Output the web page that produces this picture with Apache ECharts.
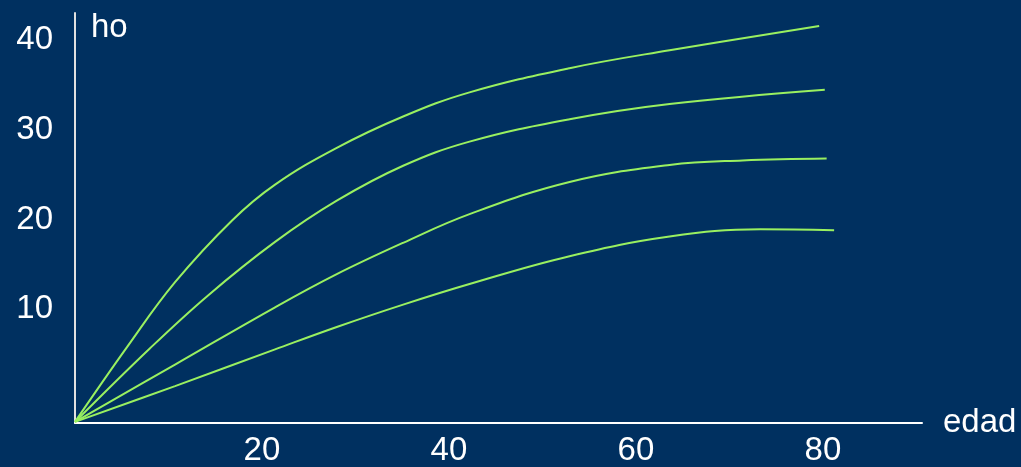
<!DOCTYPE html>
<html>
<head>
<meta charset="utf-8">
<script src="https://cdn.jsdelivr.net/npm/echarts@6/dist/echarts.min.js"></script>
<style>
html,body{margin:0;padding:0;background:#003060;}
#chart{width:1021px;height:467px;}
</style>
</head>
<body>
<div id="chart"></div>
<script>
// x tick labels (edad) and y tick labels (ho)
const xTicks = [20, 40, 60, 80];
const yTicks = [10, 20, 30, 40];

// curves: [edad, ho]
const curve1 = [[0,-2.6],[5.6,5.8],[10.7,13.0],[16.8,19.9],[21.4,23.9],[28.0,28.0],[35.1,31.5],[42.2,34.2],[52.9,36.9],[63.6,38.9],[79.6,41.6]];
const curve2 = [[0,-2.6],[8.0,5.6],[14.2,11.5],[21.4,17.5],[28.0,22.1],[35.1,26.0],[42.2,28.7],[52.9,31.2],[63.6,32.9],[80.2,34.5]];
const curve3 = [[0,-2.6],[10.7,3.8],[21.4,10.2],[28.0,13.9],[35.1,17.4],[42.2,20.6],[52.9,24.2],[63.6,26.1],[71.4,26.6],[80.4,26.8]];
const curve4 = [[0,-2.6],[10.7,1.4],[21.4,5.5],[28.0,8.0],[35.1,10.5],[42.2,12.8],[52.9,15.9],[63.6,18.1],[73.3,18.9],[81.2,18.8]];

const FONT = 'Liberation Sans, Arial, sans-serif';
const lineColor = '#99f060';

const chart = echarts.init(document.getElementById('chart'), null, {renderer:'canvas'});
const mk = (d) => ({
  type:'line', data:d, smooth:0.4, symbol:'none',
  lineStyle:{color:lineColor, width:2}, silent:true
});
chart.setOption({
  backgroundColor:'#003060',
  animation:false,
  grid:{left:75, right:99, top:13, bottom:42, containLabel:false},
  xAxis:{
    type:'value', min:0, max:90.6,
    name:'edad', nameLocation:'end', nameGap:21,
    nameTextStyle:{color:'#ffffff', fontSize:33, fontFamily:FONT, padding:[8,0,0,0]},
    axisLine:{show:true, onZero:false, lineStyle:{color:'#ffffff', width:2}},
    axisTick:{show:false},
    splitLine:{show:false},
    axisLabel:{customValues:xTicks, color:'#ffffff', fontSize:33, fontFamily:FONT, margin:11}
  },
  yAxis:{
    type:'value', min:-2.72, max:43.06,
    axisLine:{show:true, onZero:false, lineStyle:{color:'#e0e0e0', width:2}},
    axisTick:{show:false},
    splitLine:{show:false},
    axisLabel:{customValues:yTicks, color:'#ffffff', fontSize:33, fontFamily:FONT, margin:22}
  },
  graphic:[{
    type:'text', left:91, top:11,
    style:{text:'ho', fill:'#ffffff', font:'33px ' + FONT}
  }],
  series:[mk(curve1), mk(curve2), mk(curve3), mk(curve4)]
});
</script>
</body>
</html>
